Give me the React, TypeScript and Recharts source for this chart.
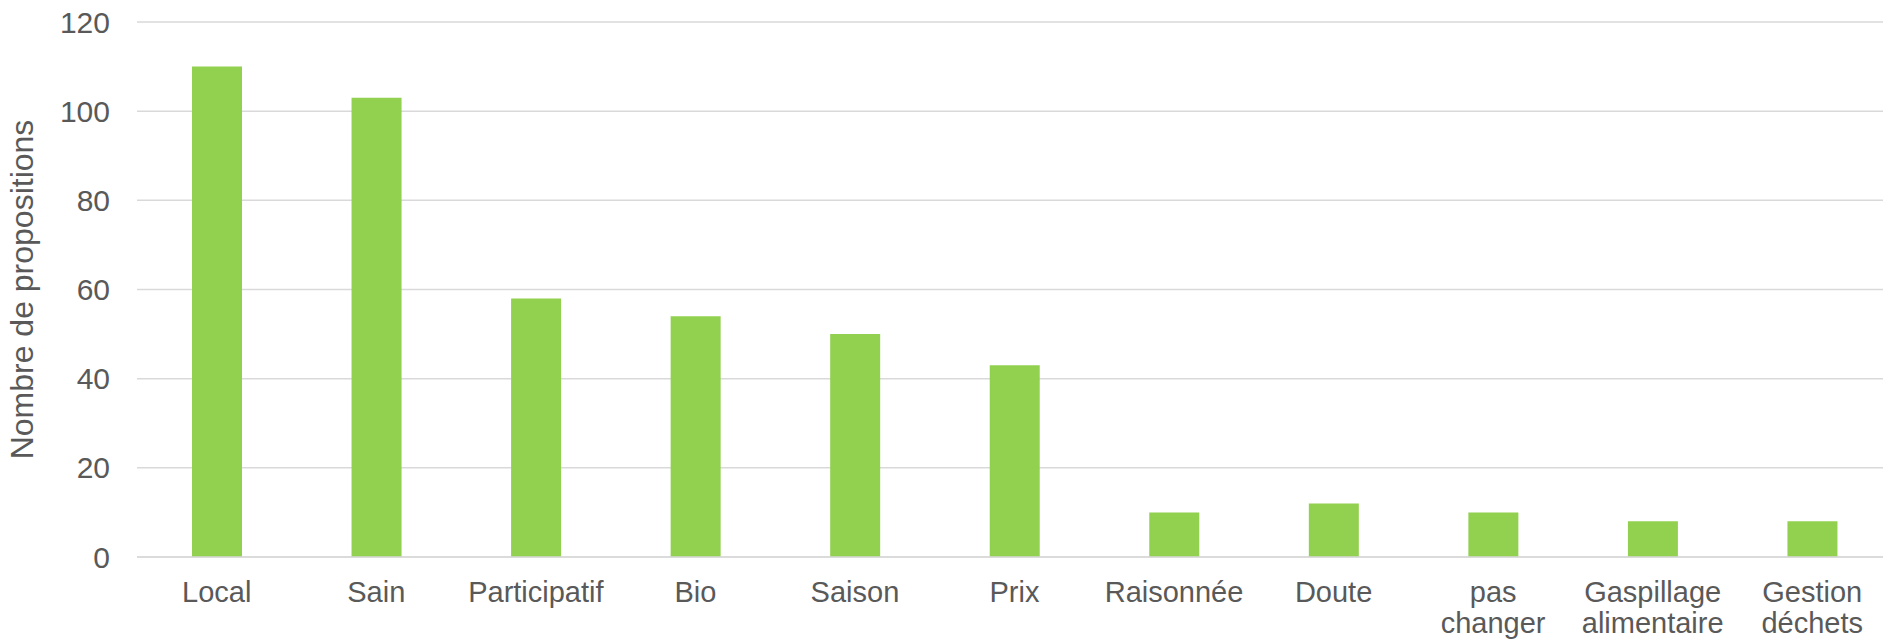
import { BarChart, Bar, XAxis, YAxis, CartesianGrid, Label } from "recharts";

const categories = [
  "Local",
  "Sain",
  "Participatif",
  "Bio",
  "Saison",
  "Prix",
  "Raisonnée",
  "Doute",
  "pas\nchanger",
  "Gaspillage\nalimentaire",
  "Gestion\ndéchets",
];
const counts = [110, 103, 58, 54, 50, 43, 10, 12, 10, 8, 8];
const yTicks = [0, 20, 40, 60, 80, 100, 120];
const yTitle = "Nombre de propositions";

const data = categories.map((name, i) => ({ name, count: counts[i] }));

const FONT = "'Liberation Sans', Arial, sans-serif";
const TEXT = "#595959";

function XTick({ x, y, payload }: any) {
  const lines = String(payload.value).split("\n");
  return (
    <text x={x} y={y + 45} textAnchor="middle" fill={TEXT} fontSize={29} fontFamily={FONT}>
      {lines.map((l, i) => (
        <tspan key={i} x={x} dy={i === 0 ? 0 : 31}>
          {l}
        </tspan>
      ))}
    </text>
  );
}

function YTitle({ viewBox }: any) {
  const cx = viewBox.x + 22;
  const cy = viewBox.y + viewBox.height / 2;
  return (
    <text
      x={cx}
      y={cy}
      transform={`rotate(-90, ${cx}, ${cy})`}
      textAnchor="middle"
      dominantBaseline="central"
      fill={TEXT}
      fontSize={32}
      fontFamily={FONT}
    >
      {yTitle}
    </text>
  );
}

export default function App() {
  return (
    <div
      style={{
        position: "absolute",
        left: 0,
        top: 0,
        width: 1883,
        height: 641,
        overflow: "hidden",
        background: "#fff",
      }}
    >
      <BarChart
        width={1892}
        height={641}
        data={data}
        margin={{ top: 22, right: 0, bottom: 0, left: 0 }}
      >
        <CartesianGrid vertical={false} stroke="#d9d9d9" strokeWidth={1.5} />
        <XAxis
          dataKey="name"
          axisLine={{ stroke: "#d9d9d9", strokeWidth: 1.5 }}
          tickLine={false}
          tickSize={0}
          tickMargin={0}
          interval={0}
          height={84}
          tick={<XTick />}
        />
        <YAxis
          width={137}
          domain={[0, 120]}
          ticks={yTicks}
          axisLine={false}
          tickLine={false}
          tickSize={0}
          tickMargin={27}
          tick={{ fill: TEXT, fontSize: 30, fontFamily: FONT }}
        >
          <Label content={<YTitle />} />
        </YAxis>
        <Bar dataKey="count" fill="#92d050" barSize={50} isAnimationActive={false} />
      </BarChart>
    </div>
  );
}
